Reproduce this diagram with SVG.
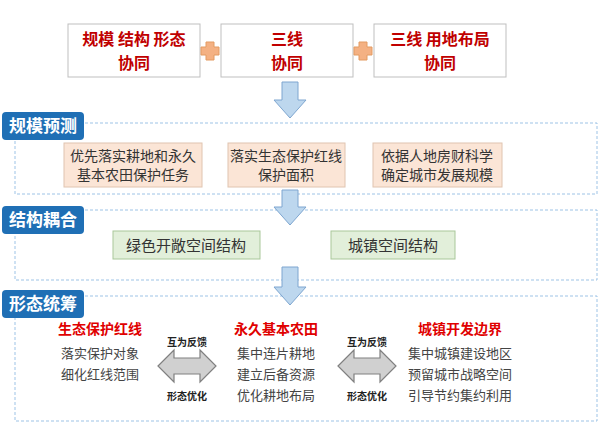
<svg xmlns="http://www.w3.org/2000/svg" width="607" height="429" viewBox="0 0 607 429">
<style>
text{font-family:"Noto Sans CJK SC","Noto Sans",sans-serif;text-anchor:middle}
.top{fill:#fff;stroke:#bfbfbf;stroke-width:1}
.tt{fill:#c00000;font-size:16px;font-weight:bold}
.frame{fill:#fff;stroke:#9dc3e6;stroke-width:1;stroke-dasharray:3 2}
.lab{fill:#1f6fb5}
.lt{fill:#fff;font-size:17px;font-weight:bold;text-anchor:start}
.peach{fill:#fbe5d6;stroke:#e0c4b0}
.green{fill:#e2efda;stroke:#a9c79a}
.bt{fill:#333;font-size:14px}
.rt{fill:#e00000;font-size:14px;font-weight:bold}
.ct{fill:#444;font-size:13px}
.st{fill:#222;font-size:10px;font-weight:bold}
.down{fill:#bdd7ee;stroke:#7ea6d0;stroke-width:1}
.dbl{fill:#d0d0d0;stroke:#808080;stroke-width:1.2}
.plus{fill:#f4b183;stroke:#e39b62}
</style>
<g id="top1"><rect class="top" x="68" y="24" width="132" height="53"/><text class="tt" x="134" y="45">规模 结构 形态</text><text class="tt" x="134" y="69">协同</text></g>
<g id="top2"><rect class="top" x="221" y="24" width="132" height="53"/><text class="tt" x="287" y="45">三线</text><text class="tt" x="287" y="69">协同</text></g>
<g id="top3"><rect class="top" x="374" y="24" width="132" height="53"/><text class="tt" x="440" y="45">三线 用地布局</text><text class="tt" x="440" y="69">协同</text></g>
<g id="plus1"><path class="plus" d="M206 42h8v5h5v8h-5v5h-8v-5h-5v-8h5z"/></g>
<g id="plus2"><path class="plus" d="M359 42h8v5h5v8h-5v5h-8v-5h-5v-8h5z"/></g>
<g id="s1"><rect class="frame" x="15" y="123" width="582" height="71"/>
<rect class="lab" x="2" y="112" width="82" height="28" rx="4"/><text class="lt" x="9" y="132">规模预测</text>
<rect class="peach" x="64" y="143" width="138" height="44"/><text class="bt" x="133" y="161">优先落实耕地和永久</text><text class="bt" x="133" y="180">基本农田保护任务</text>
<rect class="peach" x="228" y="143" width="117" height="44"/><text class="bt" x="286" y="161">落实生态保护红线</text><text class="bt" x="286" y="180">保护面积</text>
<rect class="peach" x="373" y="143" width="129" height="44"/><text class="bt" x="437" y="161">依据人地房财科学</text><text class="bt" x="437" y="180">确定城市发展规模</text></g>
<g id="s2"><rect class="frame" x="15" y="210" width="582" height="70"/>
<rect class="lab" x="2" y="206" width="82" height="28" rx="4"/><text class="lt" x="9" y="226">结构耦合</text>
<rect class="green" x="113" y="231" width="147" height="28"/><text class="bt" x="186" y="251" style="font-size:15px">绿色开敞空间结构</text>
<rect class="green" x="331" y="231" width="124" height="28"/><text class="bt" x="393" y="251" style="font-size:15px">城镇空间结构</text></g>
<g id="s3"><rect class="frame" x="15" y="296" width="582" height="125"/>
<rect class="lab" x="2" y="290" width="82" height="28" rx="4"/><text class="lt" x="9" y="310">形态统筹</text>
<text class="rt" x="100" y="334">生态保护红线</text><text class="ct" x="100" y="358">落实保护对象</text><text class="ct" x="100" y="379">细化红线范围</text>
<text class="rt" x="276" y="334">永久基本农田</text><text class="ct" x="276" y="358">集中连片耕地</text><text class="ct" x="276" y="379">建立后备资源</text><text class="ct" x="276" y="400">优化耕地布局</text>
<text class="rt" x="460" y="334">城镇开发边界</text><text class="ct" x="460" y="358">集中城镇建设地区</text><text class="ct" x="460" y="379">预留城市战略空间</text><text class="ct" x="460" y="400">引导节约集约利用</text></g>
<g id="connectors">
<path class="down" d="M282 82h16v18h8l-16 18l-16-18h8z"/>
<path class="down" d="M282 190h16v17h8l-16 18l-16-18h8z"/>
<path class="down" d="M282 267h16v20h8l-16 18l-16-18h8z"/>
<path class="dbl" d="M158 366l16-16v8h26v-8l16 16l-16 16v-8h-26v8z"/>
<path class="dbl" d="M338 366l16-16v8h26v-8l16 16l-16 16v-8h-26v8z"/>
<text class="st" x="187" y="346">互为反馈</text><text class="st" x="187" y="400">形态优化</text>
<text class="st" x="367" y="346">互为反馈</text><text class="st" x="367" y="400">形态优化</text>
</g>
</svg>
